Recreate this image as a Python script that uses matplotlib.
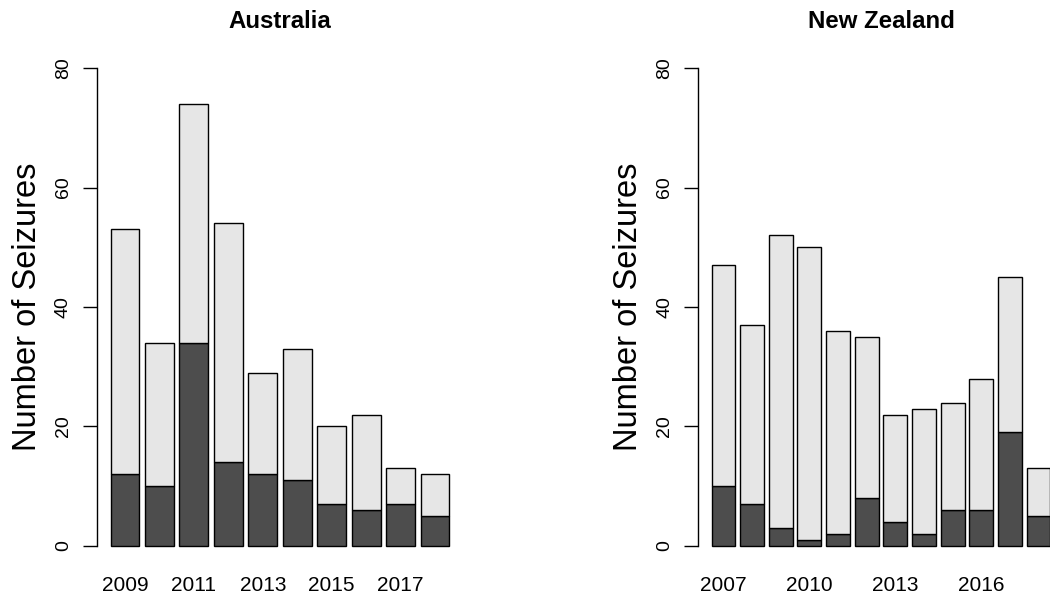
import numpy as np
import matplotlib
matplotlib.use("Agg")
import matplotlib.pyplot as plt

plt.rcParams['font.family'] = ['Liberation Sans', 'DejaVu Sans']

# Australia
aus_years = [2009, 2010, 2011, 2012, 2013, 2014, 2015, 2016, 2017, 2018]
aus_total = [53, 34, 74, 54, 29, 33, 20, 22, 13, 12]
aus_lower = [12, 10, 34, 14, 12, 11, 7, 6, 7, 5]
aus_shown = [2009, 2011, 2013, 2015, 2017]

# New Zealand
nz_years = [2007, 2008, 2009, 2010, 2011, 2012, 2013, 2014, 2015, 2016, 2017, 2018]
nz_total = [47, 37, 52, 50, 36, 35, 22, 23, 24, 28, 45, 13]
nz_lower = [10, 7, 3, 1, 2, 8, 4, 2, 6, 6, 19, 5]
nz_shown = [2007, 2010, 2013, 2016]

dark = "#4d4d4d"
light = "#e6e6e6"

fig = plt.figure(figsize=(10.5, 5.98), dpi=100)

W, H = 1050, 598
ax_w = 366
y_top, y_bot = 48.9, 565.1


def panel(left_px, years, total, lower, shown, title):
    ax = fig.add_axes([left_px / W, 1 - y_bot / H, ax_w / W, (y_bot - y_top) / H])
    n = len(years)
    x = 0.7 + 1.2 * np.arange(n)
    lower = np.array(lower)
    upper = np.array(total) - lower
    ax.bar(x, lower, width=1, color=dark, edgecolor="black", linewidth=1)
    ax.bar(x, upper, width=1, bottom=lower, color=light, edgecolor="black", linewidth=1)

    span = 1.2 * n - 0.2
    ax.set_xlim(0.2 - 0.04 * span, 0.2 + span + 0.04 * span)
    ax.set_ylim(-3.2, 83.2)

    for s in ["top", "right", "bottom"]:
        ax.spines[s].set_visible(False)
    ax.spines["left"].set_bounds(0, 80)
    ax.spines["left"].set_linewidth(1)

    ax.set_yticks([0, 20, 40, 60, 80])
    ax.tick_params(axis="y", length=10, width=1, pad=8, labelsize=14, labelrotation=90)
    for lab in ax.get_yticklabels():
        lab.set_va("center")

    pos = [x[years.index(yr)] for yr in shown]
    ax.set_xticks(pos)
    ax.set_xticklabels([str(yr) for yr in shown])
    ax.tick_params(axis="x", length=0, pad=8, labelsize=15)

    ax.set_ylabel("Number of Seizures", fontsize=23.5, va="center")
    ax.yaxis.set_label_coords(-0.19, 0.5)
    ax.text(0.5, 1.0405, title, transform=ax.transAxes, ha="center",
            va="baseline", fontsize=17.3, fontweight="bold")
    return ax


panel(97, aus_years, aus_total, aus_lower, aus_shown, "Australia")
# the right-hand panel runs past the picture's edge, as in the original
panel(698, nz_years, nz_total, nz_lower, nz_shown, "New Zealand")

fig.savefig("out.png", dpi=100)
